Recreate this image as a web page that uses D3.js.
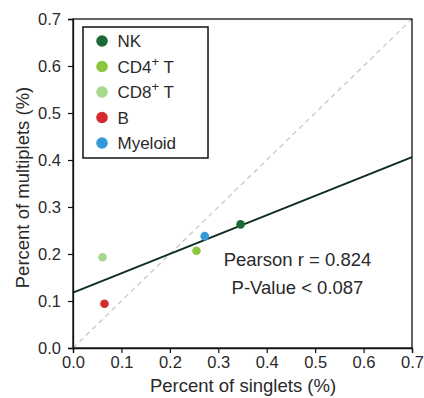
<!DOCTYPE html>
<html>
<head>
<meta charset="utf-8">
<script src="https://cdn.jsdelivr.net/npm/d3@7"></script>
<style>
  body { margin: 0; background: #fff; }
  text { font-family: "Liberation Sans", Arial, sans-serif; }
</style>
</head>
<body>
<div id="chart"></div>
<script>
// cell types and their singlet / multiplet percentages
const cellTypes = ["NK", "CD4+ T", "CD8+ T", "B", "Myeloid"];
const singlets = [0.346, 0.255, 0.061, 0.065, 0.272];
const multiplets = [0.263, 0.207, 0.193, 0.094, 0.238];
const colors = ["#1b6a38", "#8cc63f", "#a8d88e", "#d52a30", "#3599d8"];

// fitted line end points
const fitX = [0, 0.7];
const fitY = [0.118, 0.406];

const ticks = [0, 0.1, 0.2, 0.3, 0.4, 0.5, 0.6, 0.7];

const margin = {top: 19, right: 12, bottom: 50, left: 73},
      width = 424 - margin.left - margin.right,
      height = 398 - margin.top - margin.bottom;

const svg = d3.select("#chart")
              .append("svg")
              .attr("width", 424)
              .attr("height", 398)
              .append("g")
              .attr("transform", `translate(${margin.left},${margin.top})`);

const x = d3.scaleLinear().domain([0, 0.7]).range([0, width]);
const y = d3.scaleLinear().domain([0, 0.7]).range([height, 0]);

// diagonal reference
svg.append("line")
   .attr("x1", x(0)).attr("y1", y(0))
   .attr("x2", x(0.7)).attr("y2", y(0.7))
   .attr("stroke", "#c8c8c8")
   .attr("stroke-width", 1.3)
   .attr("stroke-dasharray", "5,4");

// regression line
svg.append("line")
   .attr("x1", x(fitX[0])).attr("y1", y(fitY[0]))
   .attr("x2", x(fitX[1])).attr("y2", y(fitY[1]))
   .attr("stroke", "#0d2a22")
   .attr("stroke-width", 1.8);

// points
svg.selectAll("circle.pt")
   .data(cellTypes)
   .enter()
   .append("circle")
   .attr("class", "pt")
   .attr("cx", (d, i) => x(singlets[i]))
   .attr("cy", (d, i) => y(multiplets[i]))
   .attr("r", 4.3)
   .attr("fill", (d, i) => colors[i]);

// frame
svg.append("rect")
   .attr("width", width)
   .attr("height", height)
   .attr("fill", "none")
   .attr("stroke", "#111")
   .attr("stroke-width", 1.3);

const fmt = d3.format(".1f");

const xAxis = svg.append("g")
   .attr("transform", `translate(0, ${height})`)
   .call(d3.axisBottom(x).tickValues(ticks).tickFormat(fmt).tickSize(5).tickPadding(3));
const yAxis = svg.append("g")
   .call(d3.axisLeft(y).tickValues(ticks).tickFormat(fmt).tickSize(5).tickPadding(7));

[xAxis, yAxis].forEach(a => {
    a.select(".domain").attr("stroke", "#111").attr("stroke-width", 1.3);
    a.selectAll(".tick line").attr("stroke", "#111").attr("stroke-width", 1.2);
    a.selectAll(".tick text")
     .attr("font-size", 16.5)
     .attr("fill", "#2a2a2a")
     .style("font-family", "'Liberation Sans', Arial, sans-serif");
});

// axis labels
svg.append("text")
   .attr("x", width / 2 + 0.5)
   .attr("y", height + 44)
   .attr("text-anchor", "middle")
   .attr("font-size", 18.5)
   .attr("fill", "#2a2a2a")
   .text("Percent of singlets (%)");

svg.append("text")
   .attr("x", -168.5)
   .attr("y", -44)
   .attr("text-anchor", "middle")
   .attr("transform", "rotate(-90)")
   .attr("font-size", 18.5)
   .attr("fill", "#2a2a2a")
   .text("Percent of multiplets (%)");

// stats
svg.append("text")
   .attr("x", 224.5)
   .attr("y", 246.5)
   .attr("text-anchor", "middle")
   .attr("font-size", 18.5)
   .attr("fill", "#2a2a2a")
   .text("Pearson r = 0.824");

svg.append("text")
   .attr("x", 224.5)
   .attr("y", 274.5)
   .attr("text-anchor", "middle")
   .attr("font-size", 18.5)
   .attr("fill", "#2a2a2a")
   .text("P-Value < 0.087");

// legend
const legend = svg.append("g")
                  .attr("transform", "translate(10, 8)");

legend.append("rect")
      .attr("width", 125)
      .attr("height", 131)
      .attr("fill", "#fff")
      .attr("stroke", "#111")
      .attr("stroke-width", 1.5);

cellTypes.forEach((type, i) => {
    legend.append("circle")
          .attr("cx", 19)
          .attr("cy", 14 + i * 25.5)
          .attr("r", 5.8)
          .attr("fill", colors[i]);

    const t = legend.append("text")
          .attr("x", 34.5)
          .attr("y", 20 + i * 25.5)
          .attr("font-size", 17)
          .attr("fill", "#2a2a2a");

    const m = type.match(/^(CD\d)\+ (T)$/);
    if (m) {
        t.append("tspan").text(m[1]);
        t.append("tspan").attr("dy", -7).attr("font-size", 13).text("+");
        t.append("tspan").attr("dy", 7).text(" " + m[2]);
    } else {
        t.text(type);
    }
});
</script>
</body>
</html>
